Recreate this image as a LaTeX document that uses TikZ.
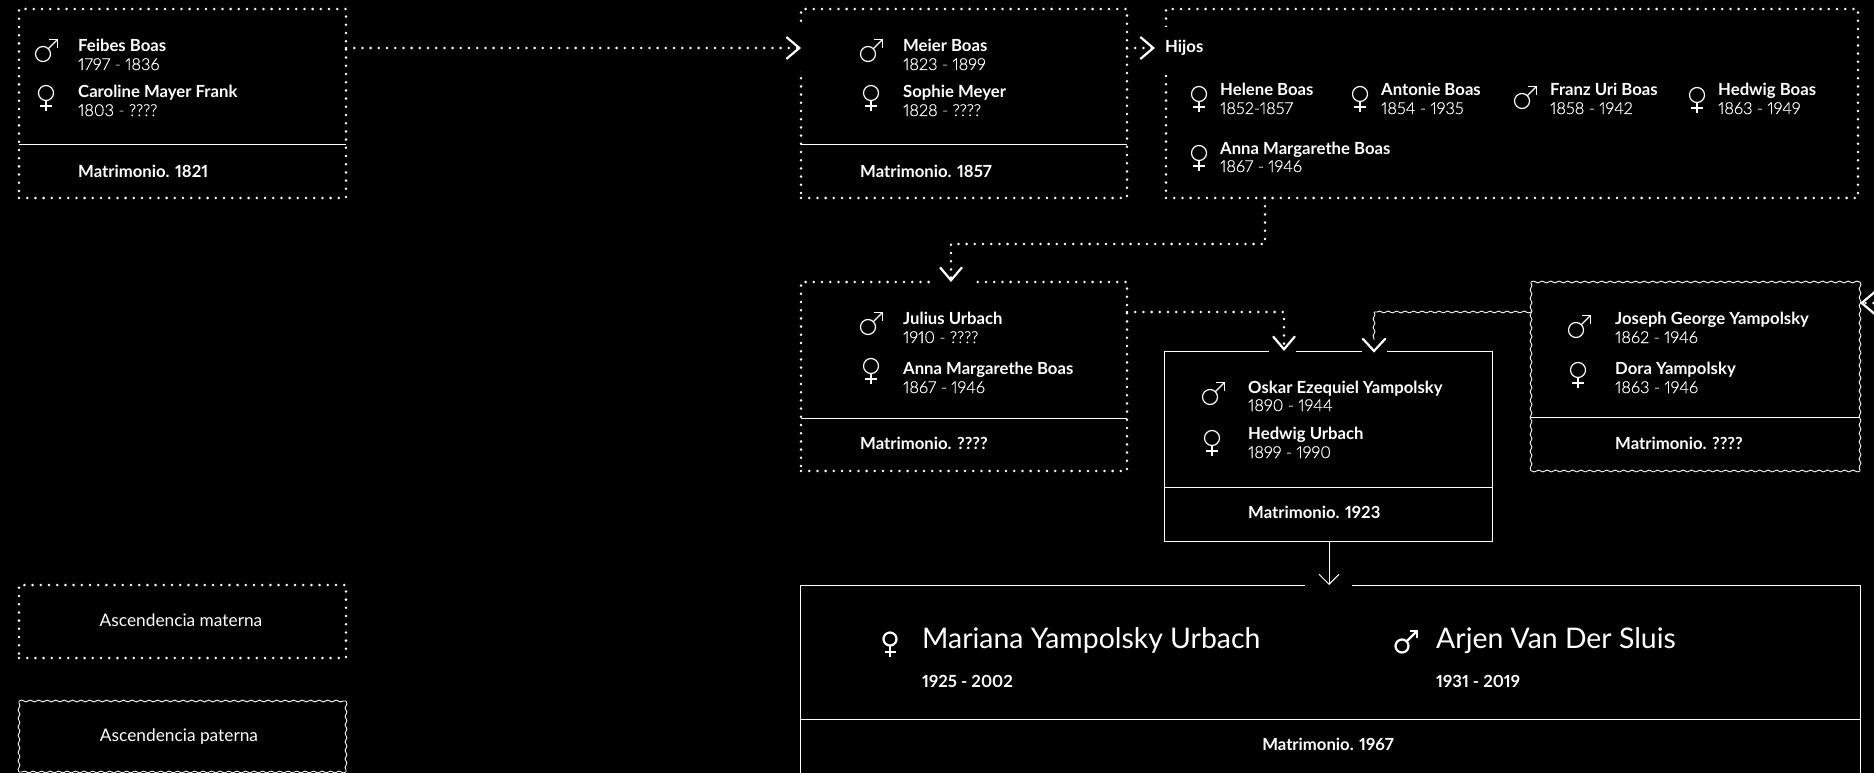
\documentclass[tikz,border=0pt]{standalone}
\usepackage{fontspec}
\setmainfont{Lato}[Numbers=Proportional]
\newfontfamily\lightface{Lato Light}[Numbers=Proportional,FakeBold=0.4]
\usepackage{tikz}
\usetikzlibrary{arrows.meta,decorations.pathmorphing}

\tikzset{
  dotline/.style={white,line width=2.8pt,line cap=round,dash pattern=on 0pt off 8.2pt},
  waveline/.style={white,line width=0.9pt,decorate,decoration={snake,segment length=8.5pt,amplitude=0.9pt}},
  plainline/.style={white,line width=1pt},
  dotbox/.style={dotline,draw,rectangle,anchor=north west,inner sep=0pt,outer sep=0pt},
  wavebox/.style={rectangle,anchor=north west,inner sep=0pt,outer sep=0pt},
  plainbox/.style={plainline,draw,rectangle,anchor=north west,inner sep=0pt,outer sep=0pt},
  bighead/.style={-{Straight Barb[length=13pt,width=22pt,line width=2.2pt]}},
  thinhead/.style={-{Straight Barb[length=10pt,width=20pt,line width=1pt]}},
  person/.style={white,anchor=base west,inner sep=0pt,font=\fontsize{16.7}{18}\selectfont\bfseries},
  years/.style={white,anchor=base west,inner sep=0pt,font=\fontsize{16.4}{18}\selectfont\lightface},
  plain/.style={white,inner sep=0pt,font=\fontsize{17.3}{19}\selectfont},
  bigname/.style={white,anchor=base west,inner sep=0pt,font=\fontsize{28.4}{31}\selectfont},
  male/.pic={
    \draw[white,line width=1.2pt] (0,0) circle (7.5pt);
    \draw[white,line width=1.2pt] (5.3,-5.3) -- (14.5,-14.5);
    \draw[white,line width=1.2pt] (6,-14.5) -- (14.5,-14.5) -- (14.5,-6);
  },
  female/.pic={
    \draw[white,line width=1.2pt] (0,0) circle (7.5pt);
    \draw[white,line width=1.2pt] (0,7.5) -- (0,18);
    \draw[white,line width=1.2pt] (-6,13) -- (6,13);
  },
  bigmale/.pic={
    \draw[white,line width=2.2pt] (0,0) circle (6.5pt);
    \draw[white,line width=2.2pt] (4.6,-4.6) -- (15,-15);
    \draw[white,line width=2.2pt] (8,-15) -- (15,-15) -- (15,-8);
  },
  bigfemale/.pic={
    \draw[white,line width=2.2pt] (0,0) circle (6.5pt);
    \draw[white,line width=2.2pt] (0,6.5) -- (0,18);
    \draw[white,line width=2.2pt] (-5.5,13) -- (5.5,13);
  }
}
\newcommand{\waveframe}[1]{%
  \foreach \a/\b in {north west/north east,north east/south east,south east/south west,south west/north west}
    {\draw[waveline] (#1.\a) -- (#1.\b);}%
}

\begin{document}
\begin{tikzpicture}[x=1pt,y=-1pt]
  \useasboundingbox (0,0) rectangle (1874,773);
  \fill[black] (0,0) rectangle (1874,773);

  % Feibes / Caroline
  \node[dotbox,minimum width=327pt,minimum height=189pt] (feibes) at (19,9) {};
  \draw[plainline] (feibes.west |- 0,145) -- (feibes.east |- 0,145);
  \pic at (43,54) {male};
  \pic at (46,93) {female};
  \node[person] (feibesname) at (78,52) {Feibes Boas};
  \node[years] (feibesyears) at (78,70) {1797 - 1836};
  \node[person] (carolinename) at (78,98) {Caroline Mayer Frank};
  \node[years] (carolineyears) at (78,116) {1803 - ????};
  \node[person] (feibesmatr) at (78,177) {Matrimonio. 1821};

  % Meier / Sophie
  \node[dotbox,minimum width=326pt,minimum height=189pt] (meier) at (801,9) {};
  \draw[plainline] (meier.west |- 0,145) -- (meier.east |- 0,145);
  \fill[black] (795,27) rectangle (807,71);
  \pic at (868,54) {male};
  \pic at (871,93) {female};
  \node[person] (meiername) at (903,52) {Meier Boas};
  \node[years] (meieryears) at (903,70) {1823 - 1899};
  \node[person] (sophiename) at (903,98) {Sophie Meyer};
  \node[years] (sophieyears) at (903,116) {1828 - ????};
  \node[person] (meiermatr) at (860,177) {Matrimonio. 1857};
  \coordinate (meierin) at (801,48);
  \draw[dotline,bighead] (feibes.east |- meierin) -- (meierin);

  % Hijos
  \node[dotbox,minimum width=692pt,minimum height=189pt] (hijos) at (1166,9) {};
  \fill[black] (1160,27) rectangle (1172,71);
  \coordinate (hijosin) at (1155,48);
  \draw[dotline,bighead] (meier.east |- hijosin) -- (hijosin);
  \node[person] (hijoslabel) at (1165,53) {Hijos};
  \pic at (1199,94) {female};
  \node[person] (helenename) at (1220,96) {Helene Boas};
  \node[years] (heleneyears) at (1220,114) {1852-1857};
  \pic at (1360,94) {female};
  \node[person] (antoniename) at (1381,96) {Antonie Boas};
  \node[years] (antonieyears) at (1381,114) {1854 - 1935};
  \pic at (1522,101) {male};
  \node[person] (franzname) at (1550,96) {Franz Uri Boas};
  \node[years] (franzyears) at (1550,114) {1858 - 1942};
  \pic at (1697,95) {female};
  \node[person] (hedwigname) at (1718,96) {Hedwig Boas};
  \node[years] (hedwigyears) at (1718,114) {1863 - 1949};
  \pic at (1199,153) {female};
  \node[person] (annaname) at (1220,154) {Anna Margarethe Boas};
  \node[years] (annayears) at (1220,172) {1867 - 1946};

  % Julius / Anna
  \node[dotbox,minimum width=326pt,minimum height=189pt] (julius) at (801,282) {};
  \draw[plainline] (julius.west |- 0,418) -- (julius.east |- 0,418);
  \fill[black] (932,276) rectangle (971,288);
  \pic at (868,327) {male};
  \pic at (871,366) {female};
  \node[person] (juliusname) at (903,324) {Julius Urbach};
  \node[years] (juliusyears) at (903,343) {1910 - ????};
  \node[person] (anname) at (903,374) {Anna Margarethe Boas};
  \node[years] (annyears) at (903,393) {1867 - 1946};
  \node[person] (juliusmatr) at (860,449) {Matrimonio. ????};
  \coordinate (juliusin) at (951,282);
  \coordinate (hijosout) at (1265,198);
  \draw[dotline,bighead] (hijosout) -- (1265,244) -- (951,244) -- (juliusin);

  % Joseph / Dora
  \node[wavebox,minimum width=329pt,minimum height=189pt] (joseph) at (1531,282) {};
  \waveframe{joseph}
  \draw[plainline] (joseph.west |- 0,417) -- (joseph.east |- 0,417);
  \pic at (1576,330) {male};
  \pic at (1578,370) {female};
  \node[person] (josephname) at (1615,324) {Joseph George Yampolsky};
  \node[years] (josephyears) at (1615,343) {1862 - 1946};
  \node[person] (doraname) at (1615,374) {Dora Yampolsky};
  \node[years] (dorayears) at (1615,393) {1863 - 1946};
  \node[person] (josephmatr) at (1615,449) {Matrimonio. ????};
  \coordinate (josephin) at (1860,303);
  \coordinate (josephfrom) at (1890,303);
  \draw[dotline,bighead] (josephfrom) -- (josephin);

  % Oskar / Hedwig
  \node[plainbox,minimum width=328pt,minimum height=190pt] (oskar) at (1164,351) {};
  \draw[plainline] (oskar.west |- 0,487) -- (oskar.east |- 0,487);
  \fill[black] (1269,345) rectangle (1296,357);
  \fill[black] (1362,345) rectangle (1387,357);
  \pic at (1210,397) {male};
  \pic at (1212,438) {female};
  \node[person] (oskarname) at (1248,393) {Oskar Ezequiel Yampolsky};
  \node[years] (oskaryears) at (1248,411) {1890 - 1944};
  \node[person] (hedname) at (1248,439) {Hedwig Urbach};
  \node[years] (hedyears) at (1248,458) {1899 - 1990};
  \node[person] (oskarmatr) at (1248,518) {Matrimonio. 1923};
  \coordinate (oskarinm) at (1284,351);
  \coordinate (oskarinp) at (1374,351);
  \coordinate (wavebend) at (1374,312);
  \draw[dotline,bighead] (julius.east |- 0,312) -- (1284,312) -- (oskarinm);
  \draw[waveline] (joseph.west |- wavebend) -- (wavebend);
  \draw[waveline] (wavebend) -- (1374,340);
  \draw[white,line width=2.2pt,line cap=round] (1363,339) -- (oskarinp) -- (1385,339);

  % Mariana / Arjen
  \coordinate (marianatl) at (800,585);
  \coordinate (marianatr) at (1860,585);
  \coordinate (marianabl) at (800,773);
  \coordinate (marianabr) at (1860,773);
  \draw[plainline] (marianabl) -- (marianatl) -- (1305,585);
  \draw[plainline] (1352,585) -- (marianatr) -- (marianabr);
  \draw[plainline] (marianatl |- 0,719) -- (marianatr |- 0,719);
  \coordinate (marianain) at (1329,585);
  \draw[plainline,thinhead] (oskar.south -| marianain) -- (marianain);
  \pic at (890,639) {bigfemale};
  \node[bigname] (mariananame) at (922,648) {Mariana Yampolsky Urbach};
  \node[person] (marianayears) at (922,687) {1925 - 2002};
  \pic at (1402,646) {bigmale};
  \node[bigname] (arjenname) at (1436,648) {Arjen Van Der Sluis};
  \node[person] (arjenyears) at (1436,687) {1931 - 2019};
  \node[person,anchor=base] (marianamatr) at (1328,750) {Matrimonio. 1967};

  % Leyenda
  \node[dotbox,minimum width=327pt,minimum height=73pt] (materna) at (19,585) {};
  \node[plain] (maternalabel) at (181,620) {Ascendencia materna};
  \node[wavebox,minimum width=327pt,minimum height=71pt] (paterna) at (19,701) {};
  \waveframe{paterna}
  \node[plain] (paternalabel) at (179,737) {Ascendencia paterna};
\end{tikzpicture}
\end{document}
